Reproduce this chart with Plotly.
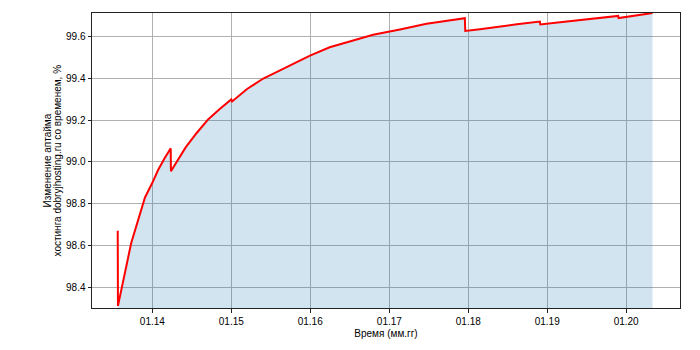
import plotly.graph_objects as go

dates = [
    "2013-07-25", "2013-07-26", "2013-09-25", "2013-10-27", "2013-11-28",
    "2014-01-01", "2014-01-27", "2014-02-28", "2014-03-27", "2014-03-28",
    "2014-04-30", "2014-06-04", "2014-07-26", "2014-09-17", "2014-11-10",
    "2015-01-01", "2015-01-05", "2015-03-15", "2015-05-29", "2015-09-16",
    "2015-12-31", "2016-03-31", "2016-07-02", "2016-10-18", "2017-02-19",
    "2017-06-22", "2017-12-16", "2017-12-18", "2018-02-24", "2018-04-26",
    "2018-08-14", "2018-11-28", "2018-11-30", "2019-03-01", "2019-06-01",
    "2019-11-25", "2019-11-27", "2020-02-10", "2020-05-02",
]
uptime = [
    98.67, 98.31, 98.61, 98.72, 98.83,
    98.90, 98.96, 99.02, 99.065, 98.955,
    99.01, 99.07, 99.14, 99.205, 99.255,
    99.30, 99.29, 99.35, 99.40, 99.455,
    99.51, 99.55, 99.578, 99.61, 99.635,
    99.662, 99.689, 99.628, 99.636, 99.645,
    99.66, 99.673, 99.659, 99.67, 99.681,
    99.70, 99.69, 99.70, 99.714,
]
ytitle_lines = ["Изменение аптайма", "хостинга dobryjhosting.ru со временем, %"]

font = dict(family="Liberation Sans, Arial, sans-serif", size=10, color="black")

fig = go.Figure()
fig.add_trace(go.Scatter(
    x=dates, y=uptime, mode="lines", fill="tozeroy",
    fillcolor="rgba(31,119,180,0.2)", line=dict(width=0),
    hoverinfo="skip", showlegend=False,
))
fig.add_trace(go.Scatter(
    x=dates, y=uptime, mode="lines",
    line=dict(color="red", width=2), showlegend=False,
))

fig.update_layout(
    width=700, height=350,
    margin=dict(l=92, r=20, t=13, b=40),
    plot_bgcolor="white", paper_bgcolor="white",
    font=font,
)
fig.update_xaxes(
    type="date", range=["2013-03-28", "2020-09-06"],
    tick0="2014-01-01", dtick="M12", tickformat="%m.%y",
    showgrid=True, gridcolor="#b0b0b0", gridwidth=0.8,
    showline=True, linecolor="#222", linewidth=1, mirror=True,
    ticks="outside", ticklen=3.5, tickcolor="#222",
    title=dict(text="Время (мм.гг)", standoff=4, font=font),
    zeroline=False,
)
fig.update_yaxes(
    range=[98.30, 99.714], dtick=0.2, tick0=98.4, tickformat=".1f",
    showgrid=True, gridcolor="#b0b0b0", gridwidth=0.8,
    showline=True, linecolor="#222", linewidth=1, mirror=True,
    ticks="outside", ticklen=3.5, tickcolor="#222",
    zeroline=False,
)
for line_text, shift in zip(ytitle_lines, [-45, -35]):
    fig.add_annotation(
        text=line_text, xref="paper", yref="paper", x=0, y=0.5,
        xanchor="center", yanchor="middle", textangle=-90,
        xshift=shift, showarrow=False, font=font,
    )

fig.write_html("out.html")
